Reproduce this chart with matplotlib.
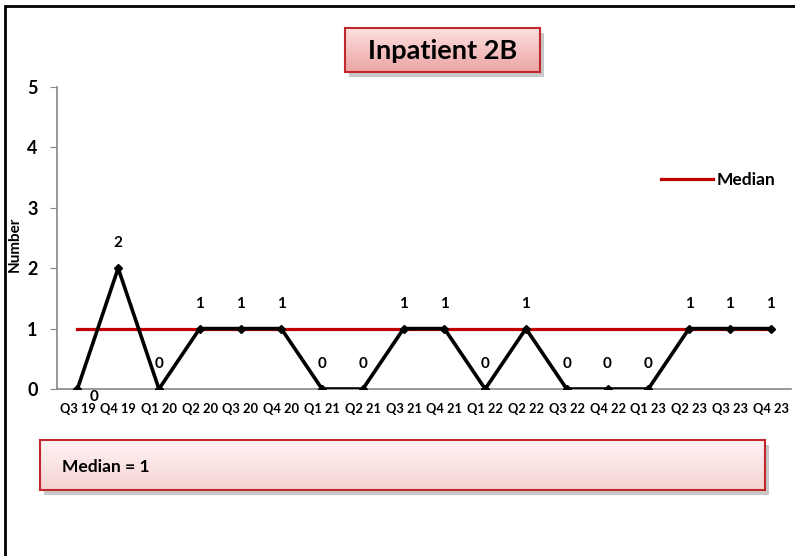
import numpy as np
import matplotlib.pyplot as plt
from matplotlib.patches import Rectangle

plt.rcParams['font.family'] = ['Lato', 'DejaVu Sans']
plt.rcParams['font.weight'] = 'bold'

quarters = ["Q3 19", "Q4 19", "Q1 20", "Q2 20", "Q3 20", "Q4 20",
            "Q1 21", "Q2 21", "Q3 21", "Q4 21", "Q1 22", "Q2 22",
            "Q3 22", "Q4 22", "Q1 23", "Q2 23", "Q3 23", "Q4 23"]
counts = [0, 2, 0, 1, 1, 1, 0, 0, 1, 1, 0, 1, 0, 0, 0, 1, 1, 1]
median_value = 1
title = "Inpatient 2B"

W, H = 795, 556
fig = plt.figure(figsize=(W / 100, H / 100), dpi=100)

# frame around the chart (only left / top visible in the original)
fig.patches.append(Rectangle((5 / W, -0.1), 1.2, (H - 6) / H + 0.1,
                             transform=fig.transFigure, fill=False,
                             edgecolor='black', linewidth=2))


def px_axes(x0, y0, x1, y1):
    # pixel box (top-left origin) -> figure fraction rect
    return [x0 / W, 1 - y1 / H, (x1 - x0) / W, (y1 - y0) / H]


ax = fig.add_axes(px_axes(57, 87, 791, 389))
x = np.arange(len(quarters))
ax.plot(x, counts, color='black', linewidth=2.6, marker='D', markersize=4.5,
        zorder=3)
ax.plot(x, [median_value] * len(x), color='#c00000', linewidth=2.3,
        label='Median', zorder=2)

for i, v in enumerate(counts):
    if i == 0:
        ax.annotate(str(v), (i, v), xytext=(12, -6), textcoords='offset points',
                    ha='center', va='center', fontsize=11, fontweight='bold')
    else:
        ax.annotate(str(v), (i, v), xytext=(0, 18), textcoords='offset points',
                    ha='center', va='center', fontsize=11, fontweight='bold')

ax.set_xlim(-0.5, len(quarters) - 0.5)
ax.set_ylim(0, 5)
ax.set_xticks(x)
ax.set_xticklabels(quarters, fontsize=9.3, fontweight='bold')
ax.set_yticks(range(6))
ax.set_yticklabels([str(t) for t in range(6)], fontsize=13, fontweight='bold')
ax.tick_params(axis='x', length=0, pad=10)
ax.tick_params(axis='y', length=5, color='#868686', pad=9)
for s in ['top', 'right']:
    ax.spines[s].set_visible(False)
for s in ['left', 'bottom']:
    ax.spines[s].set_color('#868686')
    ax.spines[s].set_linewidth(1.2)
ax.set_ylabel('Number', fontsize=11, fontweight='bold')
ax.yaxis.set_label_coords(-0.048, 0.48)

ax.legend(loc='center left', bbox_to_anchor=(645 / W, 1 - 180 / H),
          bbox_transform=fig.transFigure, frameon=False,
          handlelength=3.0, handletextpad=0.25,
          prop={'weight': 'bold', 'size': 12.5})


def bevel_box(x0, y0, x1, y1, top_col, bot_col, text, fontsize, ha='center',
              tx=None):
    # drop shadow
    sh = fig.add_axes(px_axes(x0 + 4, y0 + 5, x1 + 4, y1 + 5))
    sh.set_facecolor('#c8c8c8')
    sh.set_xticks([])
    sh.set_yticks([])
    for s in sh.spines.values():
        s.set_visible(False)
    b = fig.add_axes(px_axes(x0, y0, x1, y1))
    grad = np.linspace(0, 1, 64)[:, None]
    c0 = np.array(plt.matplotlib.colors.to_rgb(top_col))
    c1 = np.array(plt.matplotlib.colors.to_rgb(bot_col))
    img = c0[None, None, :] * (1 - grad[..., None]) + c1[None, None, :] * grad[..., None]
    b.imshow(img, aspect='auto', extent=(0, 1, 0, 1))
    b.set_xlim(0, 1)
    b.set_ylim(0, 1)
    b.set_xticks([])
    b.set_yticks([])
    for s in b.spines.values():
        s.set_color('#c0282d')
        s.set_linewidth(1.5)
    if tx is None:
        tx = 0.5
    b.text(tx, 0.47, text, ha=ha, va='center', fontsize=fontsize,
           fontweight='bold', transform=b.transAxes)


bevel_box(345, 28, 540, 72, '#fde0e0', '#eca4a4', title, 19.5)
bevel_box(40, 440, 765, 490, '#fff4f4', '#f6d2d2', 'Median = 1', 12.5,
          ha='left', tx=22 / 725)

fig.savefig('out.png', dpi=100)
